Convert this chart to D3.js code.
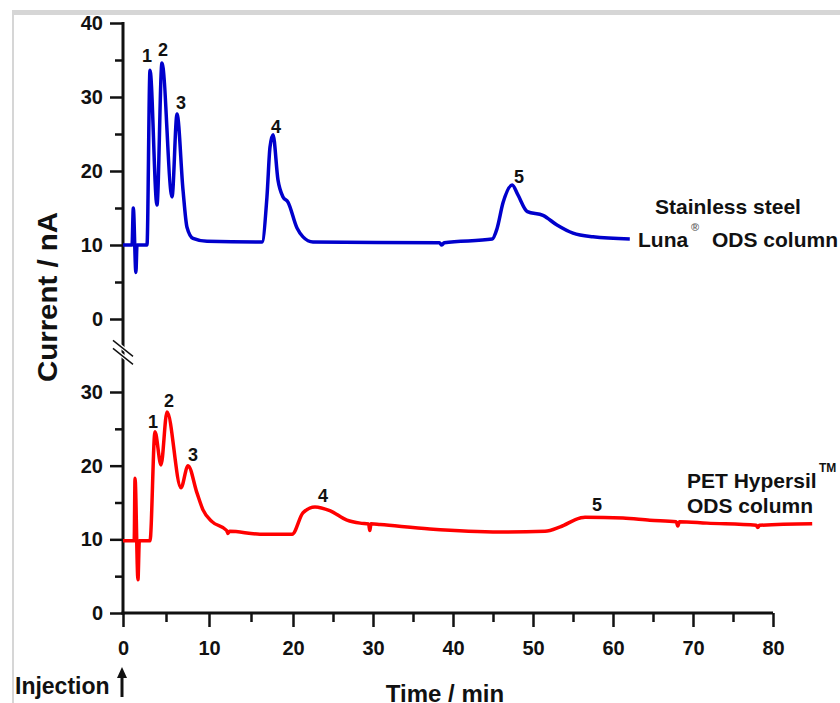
<!DOCTYPE html>
<html>
<head>
<meta charset="utf-8">
<script src="https://cdnjs.cloudflare.com/ajax/libs/d3/7.8.5/d3.min.js"></script>
<style>
    body { margin: 0; background: #fff; }
    svg text { font-family: "Liberation Sans", Arial, sans-serif; font-weight: bold; fill: #111; }
</style>
</head>
<body>
<div id="vis"></div>
<script>
// chromatogram on the stainless steel Luna column (blue), time in min / current in nA
var lunaTime = [0, 1.05, 1.2, 1.5, 1.63, 2.79, 3.14, 3.95, 4.53, 5.7, 6.28, 6.98, 7.44, 8.14, 9.77,
    16.3, 16.9, 17.26, 17.62, 18.21, 18.81, 19.4, 20.5, 21.25, 22.5, 38.3, 38.6, 38.9, 44.9, 45.5,
    46.25, 47.4, 48.1, 49.3, 51.25, 53.0, 55.0, 57.5, 62.1];
var lunaCurrent = [10, 10, 15, 6.3, 10, 10, 33.6, 15.4, 34.6, 16.5, 27.7, 17.4, 12.4, 10.9, 10.5,
    10.4, 16.5, 23.2, 24.9, 18.8, 16.5, 15.8, 12.3, 11.1, 10.4, 10.3, 10.0, 10.3, 10.8, 12.2,
    15.7, 18.1, 16.8, 14.5, 14.0, 12.7, 11.6, 11.1, 10.8];

// chromatogram on the PET Hypersil column (red)
var petTime = [0, 1.3, 1.4, 1.74, 1.9, 3.14, 3.72, 4.42, 5.12, 6.74, 7.56, 8.6, 9.3, 10.36, 12.1,
    12.26, 12.45, 16.07, 19.9, 21.25, 22.75, 24.6, 26.75, 28.4, 29.45, 29.6, 29.75, 30.9, 37.1, 45.9,
    51.5, 53.4, 55.9, 56.5, 61.25, 64.6, 67.9, 68.1, 68.3, 71.75, 77.9, 78.1, 78.3, 84.9];
var petCurrent = [9.8, 9.8, 18.3, 4.5, 9.8, 9.8, 24.6, 20.1, 27.3, 17.0, 20.0, 16.3, 14.0, 12.4, 11.2,
    10.8, 11.1, 10.7, 10.7, 13.6, 14.4, 13.9, 12.6, 12.2, 12.1, 11.2, 12.1, 12.0, 11.4, 11.0,
    11.1, 11.7, 12.9, 13.0, 12.9, 12.6, 12.4, 11.8, 12.4, 12.2, 11.9, 11.6, 11.9, 12.1];

// peak numbers and where they sit (data units)
var peakNames = ['1', '2', '3', '4', '5'];
var lunaPeakTime = [2.79, 4.65, 6.74, 17.98, 48.25];
var lunaPeakCurrent = [34.7, 35.5, 28.4, 25.1, 18.4];
var petPeakTime = [3.49, 5.35, 8.14, 23.75, 58.0];
var petPeakCurrent = [25.1, 28.0, 20.7, 15.1, 13.9];

// ticks
var xTicks = [0, 10, 20, 30, 40, 50, 60, 70, 80];
var xMinorTicks = [5, 15, 25, 35, 45, 55, 65, 75];
var yTopTicks = [0, 10, 20, 30, 40];
var yTopMinorTicks = [5, 15, 25, 35];
var yBottomTicks = [0, 10, 20, 30];
var yBottomMinorTicks = [5, 15, 25];

var width = 840, height = 703;

var svg = d3.select('#vis').append('svg')
    .attr('width', width)
    .attr('height', height);

// light grey frame of the scanned figure
svg.append('rect').attr('x', 12).attr('y', 10).attr('width', width - 12).attr('height', 5).attr('fill', '#d6d6d6');
svg.append('rect').attr('x', 12).attr('y', 10).attr('width', 2).attr('height', height - 10).attr('fill', '#d6d6d6');

// time axis is slightly uneven in the original, so use a piecewise scale
var xScale = d3.scaleLinear().domain([0, 10, 20, 80]).range([123, 209, 293, 773]);
var yTop = d3.scaleLinear().domain([0, 40]).range([319, 23]);
var yBottom = d3.scaleLinear().domain([0, 30]).range([613, 392]);

var noDomain = function(g) { g.select('.domain').remove(); };

var styleAxis = function(g) {
    g.selectAll('line').attr('stroke', '#111').attr('stroke-width', 2.5);
    g.selectAll('text').style('font-size', '20px').attr('fill', '#111');
};

// x axis
svg.append('g')
    .attr('transform', 'translate(0,613)')
    .call(d3.axisBottom(xScale).tickValues(xTicks).tickSize(14).tickPadding(14))
    .call(noDomain).call(styleAxis);
svg.append('g')
    .attr('transform', 'translate(0,613)')
    .call(d3.axisBottom(xScale).tickValues(xMinorTicks).tickSize(9).tickFormat(''))
    .call(noDomain).call(styleAxis);

// y axes (top and bottom part share one line)
svg.append('g')
    .attr('transform', 'translate(123,0)')
    .call(d3.axisLeft(yTop).tickValues(yTopTicks).tickSize(13).tickPadding(7))
    .call(noDomain).call(styleAxis);
svg.append('g')
    .attr('transform', 'translate(123,0)')
    .call(d3.axisLeft(yTop).tickValues(yTopMinorTicks).tickSize(8).tickFormat(''))
    .call(noDomain).call(styleAxis);
svg.append('g')
    .attr('transform', 'translate(123,0)')
    .call(d3.axisLeft(yBottom).tickValues(yBottomTicks).tickSize(13).tickPadding(7))
    .call(noDomain).call(styleAxis);
svg.append('g')
    .attr('transform', 'translate(123,0)')
    .call(d3.axisLeft(yBottom).tickValues(yBottomMinorTicks).tickSize(8).tickFormat(''))
    .call(noDomain).call(styleAxis);

svg.append('line')
    .attr('x1', xScale(0)).attr('x2', xScale(0))
    .attr('y1', yTop(40) - 1).attr('y2', yBottom(0) + 1.5)
    .attr('stroke', '#111').attr('stroke-width', 3);
svg.append('line')
    .attr('x1', xScale(0) - 1.5).attr('x2', xScale(80))
    .attr('y1', yBottom(0)).attr('y2', yBottom(0))
    .attr('stroke', '#111').attr('stroke-width', 3);

// axis break marks
var breakY = yTop(-4.5);
[-8, 0].forEach(function(off) {
    svg.append('line')
        .attr('x1', 113).attr('y1', breakY + off - 4)
        .attr('x2', 133).attr('y2', breakY + off + 12)
        .attr('stroke', '#fff').attr('stroke-width', 4);
});
[-8, 0].forEach(function(off) {
    svg.append('line')
        .attr('x1', 113).attr('y1', breakY + off - 4)
        .attr('x2', 133).attr('y2', breakY + off + 12)
        .attr('stroke', '#111').attr('stroke-width', 1.5);
});

// the two traces
var lunaLine = d3.line()
    .x(function(d) { return xScale(d[0]); })
    .y(function(d) { return yTop(d[1]); })
    .curve(d3.curveMonotoneX);
var petLine = d3.line()
    .x(function(d) { return xScale(d[0]); })
    .y(function(d) { return yBottom(d[1]); })
    .curve(d3.curveMonotoneX);

svg.append('path')
    .datum(d3.zip(lunaTime, lunaCurrent))
    .attr('d', lunaLine)
    .attr('fill', 'none')
    .attr('stroke', '#0000cc')
    .attr('stroke-width', 3.5)
    .attr('stroke-linejoin', 'round');

svg.append('path')
    .datum(d3.zip(petTime, petCurrent))
    .attr('d', petLine)
    .attr('fill', 'none')
    .attr('stroke', '#ff0000')
    .attr('stroke-width', 3.5)
    .attr('stroke-linejoin', 'round');

// peak numbers
svg.selectAll('.lunaPeak').data(peakNames).enter().append('text')
    .attr('class', 'lunaPeak')
    .attr('x', function(d, i) { return xScale(lunaPeakTime[i]); })
    .attr('y', function(d, i) { return yTop(lunaPeakCurrent[i]); })
    .attr('text-anchor', 'middle')
    .style('font-size', '18px')
    .text(function(d) { return d; });
svg.selectAll('.petPeak').data(peakNames).enter().append('text')
    .attr('class', 'petPeak')
    .attr('x', function(d, i) { return xScale(petPeakTime[i]); })
    .attr('y', function(d, i) { return yBottom(petPeakCurrent[i]); })
    .attr('text-anchor', 'middle')
    .style('font-size', '18px')
    .text(function(d) { return d; });

// column labels
svg.append('text').attr('x', 655).attr('y', 214).style('font-size', '21px').text('Stainless steel');
svg.append('text').attr('x', 638).attr('y', 247).style('font-size', '21px').text('Luna');
svg.append('text').attr('x', 691).attr('y', 231).style('font-size', '11px').style('fill', '#666').text('®');
svg.append('text').attr('x', 712).attr('y', 247).style('font-size', '21px').text('ODS column');

svg.append('text').attr('x', 687).attr('y', 488).style('font-size', '21px').text('PET Hypersil');
svg.append('text').attr('x', 819).attr('y', 472).style('font-size', '12px').text('TM');
svg.append('text').attr('x', 687).attr('y', 513).style('font-size', '21px').text('ODS column');

// axis titles
svg.append('text')
    .attr('transform', 'translate(57,297) rotate(-90)')
    .attr('text-anchor', 'middle')
    .attr('textLength', 170)
    .attr('lengthAdjust', 'spacingAndGlyphs')
    .style('font-size', '27px')
    .text('Current / nA');

svg.append('text')
    .attr('x', 445).attr('y', 702)
    .attr('text-anchor', 'middle')
    .style('font-size', '24px')
    .text('Time / min');

svg.append('text')
    .attr('x', 15).attr('y', 694)
    .style('font-size', '23px')
    .text('Injection');

// injection arrow at t = 0
svg.append('line')
    .attr('x1', xScale(0) - 1).attr('x2', xScale(0) - 1)
    .attr('y1', 697).attr('y2', 675)
    .attr('stroke', '#111').attr('stroke-width', 3);
svg.append('path')
    .attr('d', 'M' + (xScale(0) - 6) + ',678 L' + (xScale(0) - 1) + ',667 L' + (xScale(0) + 4) + ',678 Z')
    .attr('fill', '#111');
</script>
</body>
</html>
